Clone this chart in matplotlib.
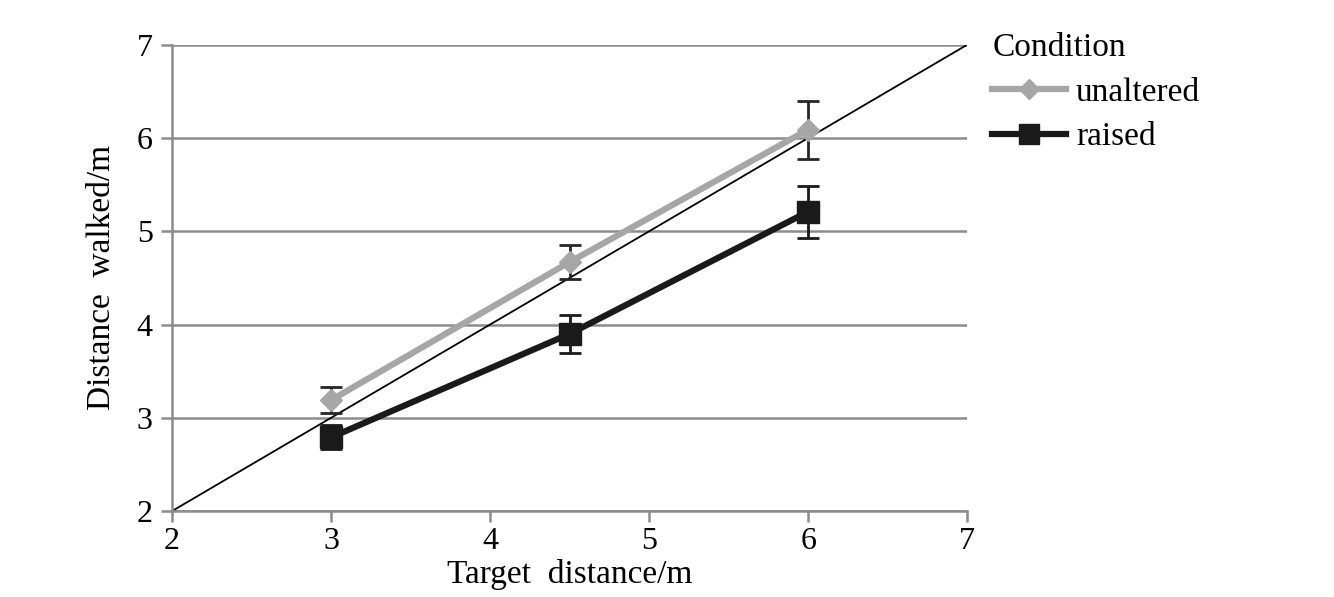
import matplotlib
matplotlib.use("Agg")
import matplotlib.pyplot as plt
from matplotlib.lines import Line2D

# target distances (m)
targets = [3, 4.5, 6]

# mean distance walked per condition and its error
unaltered = [3.19, 4.67, 6.09]
unaltered_err = [0.14, 0.18, 0.31]
raised = [2.79, 3.90, 5.21]
raised_err = [0.13, 0.20, 0.28]

ref_line = [2, 7]

plt.rcParams["font.family"] = ["Liberation Serif", "DejaVu Serif"]

fig = plt.figure(figsize=(13.34, 5.97), dpi=100)
ax = fig.add_axes([0.129, 0.144, 0.596, 0.781])

ax.set_xlim(2, 7)
ax.set_ylim(2, 7)
ax.set_xticks([2, 3, 4, 5, 6, 7])
ax.set_yticks([2, 3, 4, 5, 6, 7])
ax.yaxis.grid(True, color="#8c8c8c", linewidth=1.8)
ax.set_axisbelow(True)

# identity line
ax.plot(ref_line, ref_line, color="black", linewidth=1.3, zorder=2)

ax.errorbar(targets, unaltered, yerr=unaltered_err, color="#a6a6a6",
            ecolor="#262626", elinewidth=2, capsize=8, capthick=2,
            linewidth=4.5, marker="D", markersize=11, zorder=3)
ax.errorbar(targets, raised, yerr=raised_err, color="#1a1a1a",
            ecolor="#1a1a1a", elinewidth=2, capsize=8, capthick=2,
            linewidth=4.5, marker="s", markersize=16, zorder=4)

for s in ["top", "right"]:
    ax.spines[s].set_visible(False)
for s in ["left", "bottom"]:
    ax.spines[s].set_color("#8c8c8c")
    ax.spines[s].set_linewidth(1.8)
ax.tick_params(axis="both", labelsize=23, color="#8c8c8c", width=1.8, length=8)
ax.tick_params(axis="y", pad=6)

ax.set_xlabel("Target  distance/m", fontsize=24, labelpad=2)
ax.set_ylabel("Distance  walked/m", fontsize=24, labelpad=14)

handles = [
    Line2D([], [], color="#a6a6a6", linewidth=4.5, marker="D", markersize=10),
    Line2D([], [], color="#1a1a1a", linewidth=4.5, marker="s", markersize=14),
]
leg = fig.legend(handles, ["unaltered", "raised"], title="Condition",
                 loc="upper left", bbox_to_anchor=(0.744, 0.945),
                 frameon=False, fontsize=24, title_fontsize=24,
                 handlelength=2.2, handletextpad=0.3,
                 borderaxespad=0, labelspacing=0.42, borderpad=0)
leg._legend_box.align = "left"

fig.savefig("out.png", dpi=100)
